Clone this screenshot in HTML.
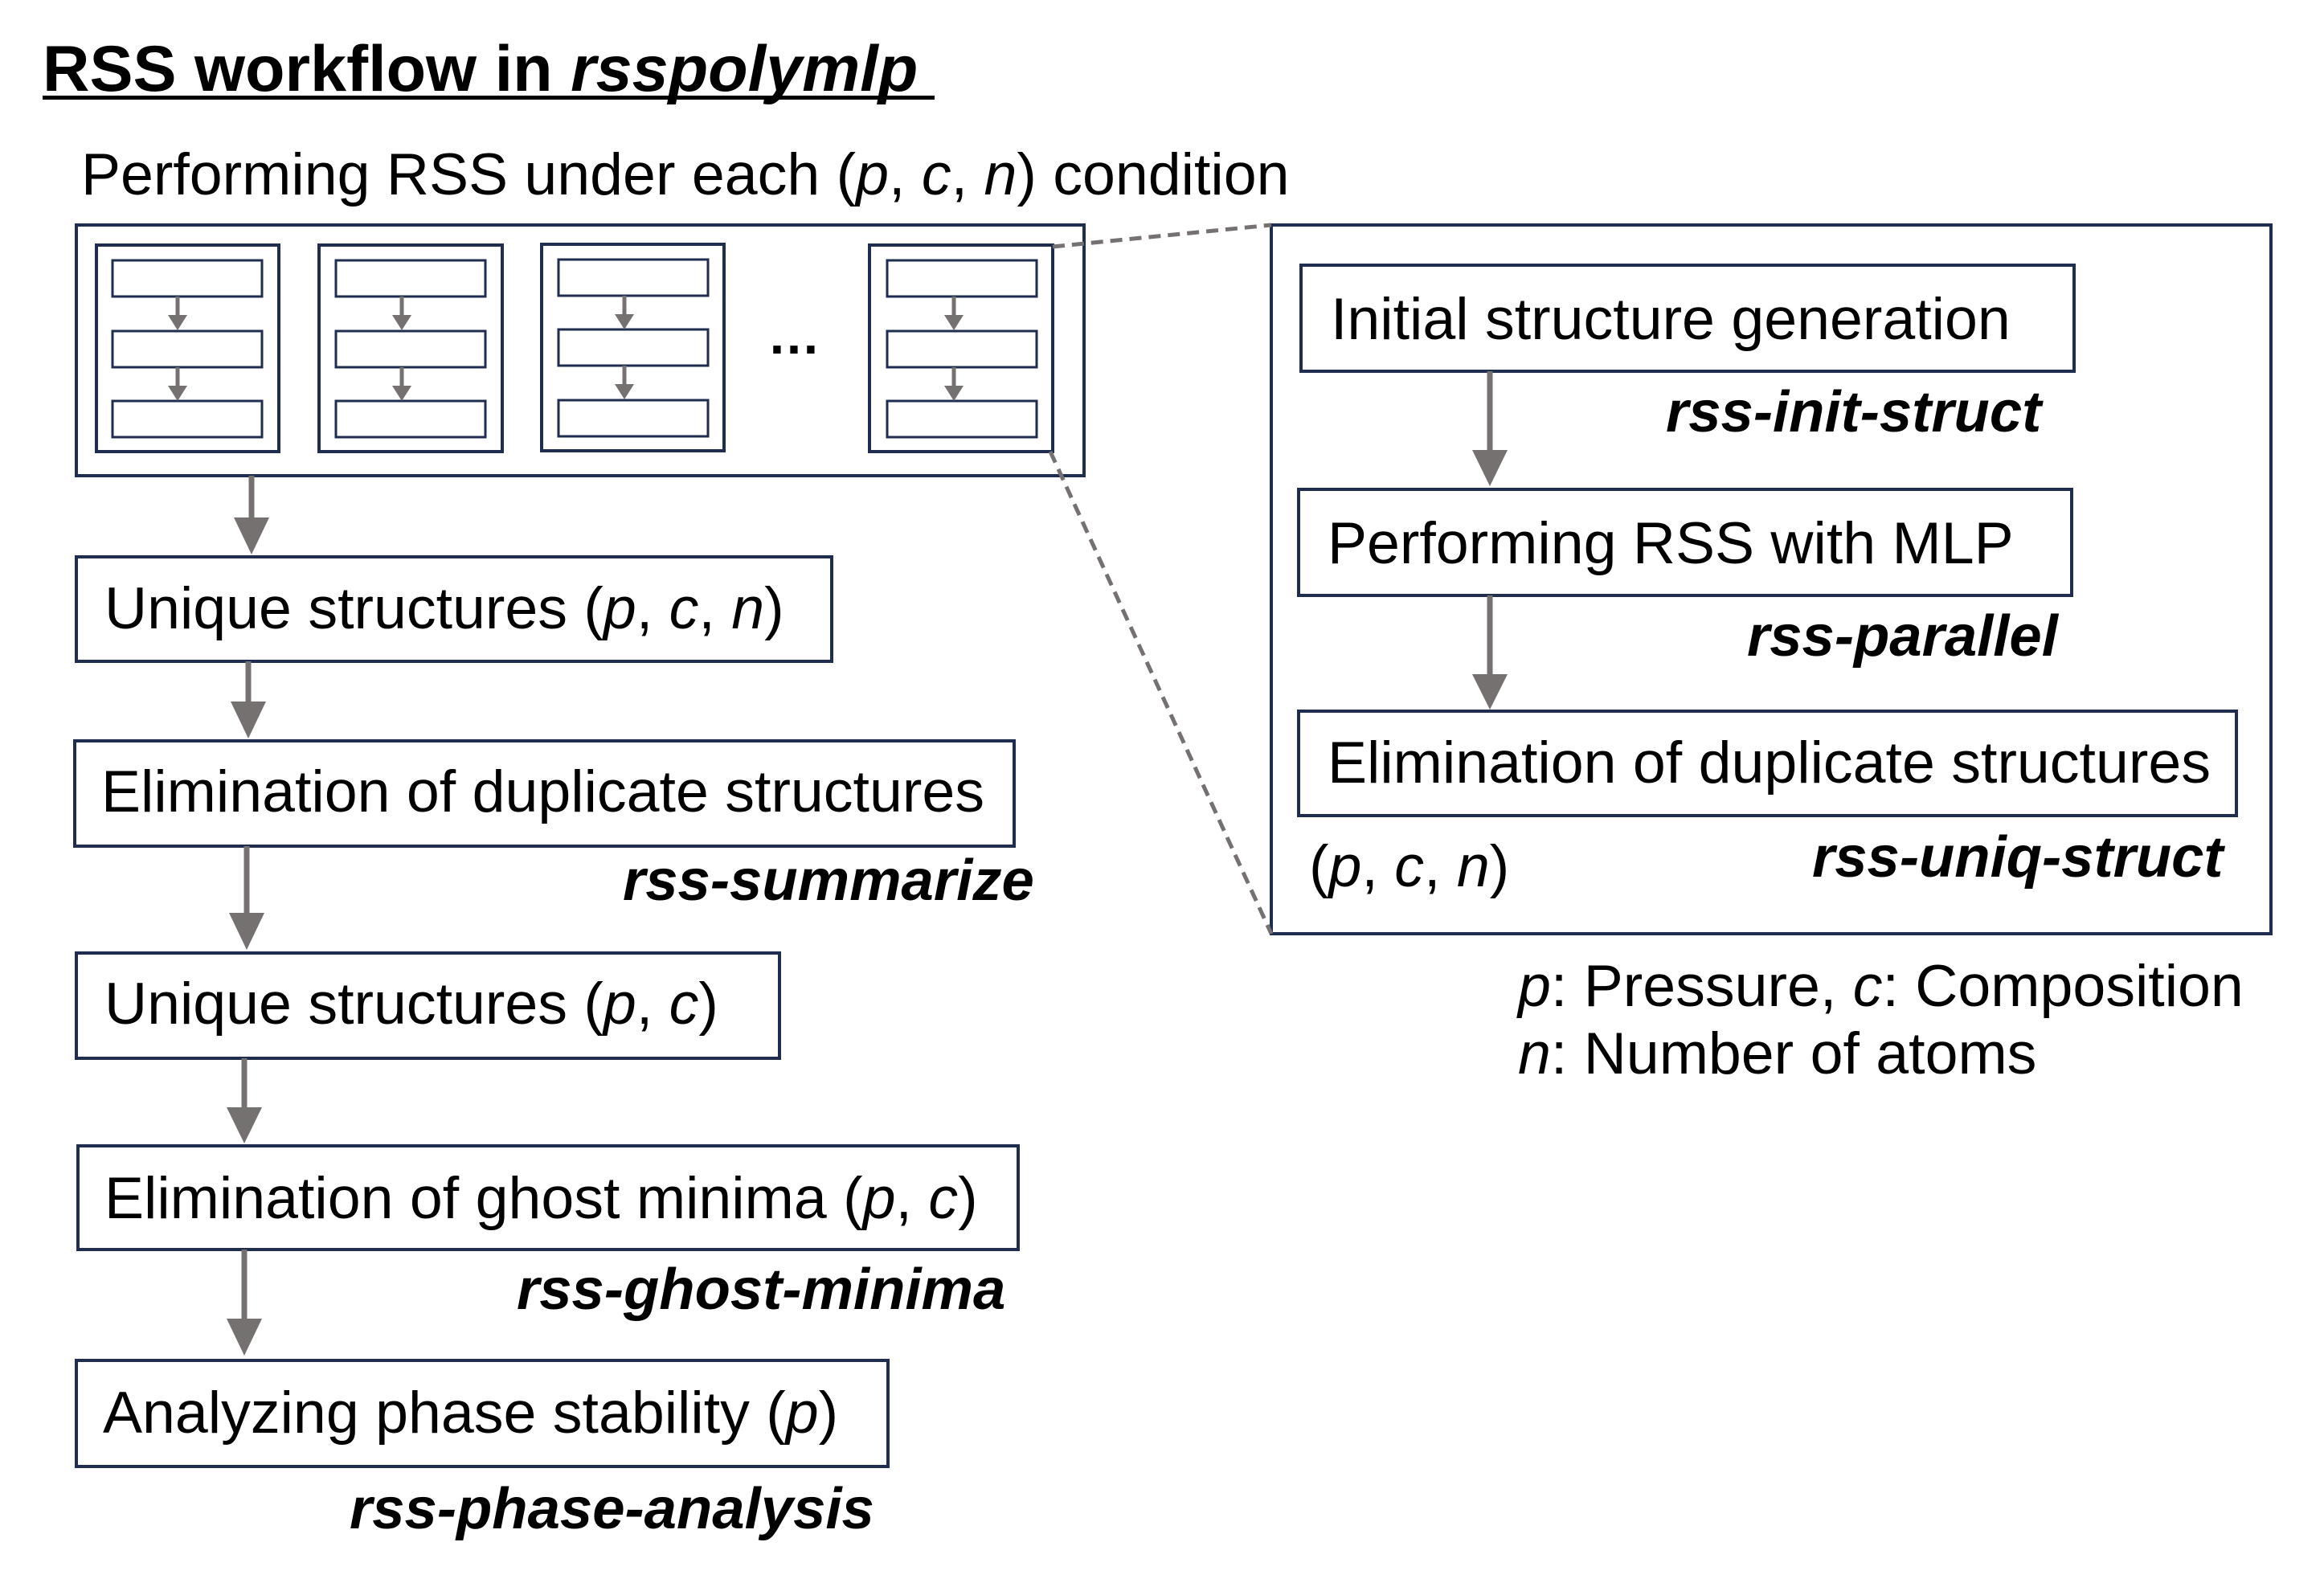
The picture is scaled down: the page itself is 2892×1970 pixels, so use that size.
<!DOCTYPE html>
<html><head><meta charset="utf-8"><style>
html,body{margin:0;padding:0;background:#fff;}
svg{display:block;}
text{font-family:"Liberation Sans",Arial,sans-serif;fill:#000;}
.b{font-size:73.5px;}
.l{font-size:72.5px;font-weight:bold;font-style:italic;}
</style></head><body>
<svg width="2892" height="1970" viewBox="0 0 2892 1970" xmlns="http://www.w3.org/2000/svg">
<text x="53" y="113" style="font-size:81px;font-weight:bold">RSS workflow in <tspan font-style="italic">rsspolymlp</tspan></text>
<rect x="53" y="119" width="1110" height="5" fill="#000"/>
<text x="101" y="242" class="b">Performing RSS under each (<tspan font-style="italic">p</tspan>, <tspan font-style="italic">c</tspan>, <tspan font-style="italic">n</tspan>) condition</text>

<g fill="none" stroke="#1f2d50" stroke-width="4">
<rect x="95" y="280" width="1254" height="312"/>
<rect x="120" y="305" width="227" height="257"/>
<rect x="397" y="305" width="228" height="257"/>
<rect x="674" y="304" width="227" height="257"/>
<rect x="1082" y="305" width="228" height="257"/>
<g stroke-width="3">
<rect x="140" y="324" width="186" height="45"/><rect x="140" y="412" width="186" height="45"/><rect x="140" y="499" width="186" height="45"/>
<rect x="418" y="324" width="186" height="45"/><rect x="418" y="412" width="186" height="45"/><rect x="418" y="499" width="186" height="45"/>
<rect x="695" y="323" width="186" height="45"/><rect x="695" y="410" width="186" height="45"/><rect x="695" y="498" width="186" height="45"/>
<rect x="1104" y="324" width="186" height="45"/><rect x="1104" y="412" width="186" height="45"/><rect x="1104" y="499" width="186" height="45"/>
</g>
<rect x="95" y="693" width="940" height="130"/>
<rect x="93" y="922" width="1169" height="131"/>
<rect x="95" y="1186" width="875" height="131"/>
<rect x="97" y="1426" width="1170" height="129"/>
<rect x="95" y="1693" width="1010" height="132"/>
<rect x="1582" y="280" width="1244" height="882"/>
<rect x="1619" y="330" width="962" height="132"/>
<rect x="1616" y="609" width="962" height="132"/>
<rect x="1616" y="885" width="1167" height="130"/>
</g>

<g stroke="#767171" stroke-width="5" fill="#767171">
<line x1="221" y1="369" x2="221" y2="394"/><polygon stroke="none" points="209,392 233,392 221,411"/>
<line x1="221" y1="457" x2="221" y2="482"/><polygon stroke="none" points="209,480 233,480 221,499"/>
<line x1="500" y1="369" x2="500" y2="394"/><polygon stroke="none" points="488,392 512,392 500,411"/>
<line x1="500" y1="457" x2="500" y2="482"/><polygon stroke="none" points="488,480 512,480 500,499"/>
<line x1="777" y1="368" x2="777" y2="393"/><polygon stroke="none" points="765,391 789,391 777,410"/>
<line x1="777" y1="455" x2="777" y2="480"/><polygon stroke="none" points="765,478 789,478 777,497"/>
<line x1="1187" y1="369" x2="1187" y2="394"/><polygon stroke="none" points="1175,392 1199,392 1187,411"/>
<line x1="1187" y1="457" x2="1187" y2="482"/><polygon stroke="none" points="1175,480 1199,480 1187,499"/>
</g>
<text x="955" y="440" style="font-size:66px;font-weight:bold">…</text>

<g stroke="#767171" stroke-width="7" fill="#767171">
<line x1="313" y1="592" x2="313" y2="646"/><polygon stroke="none" points="291,644 335,644 313,690"/>
<line x1="309" y1="823" x2="309" y2="875"/><polygon stroke="none" points="287,873 331,873 309,919"/>
<line x1="307" y1="1053" x2="307" y2="1138"/><polygon stroke="none" points="285,1136 329,1136 307,1182"/>
<line x1="304" y1="1317" x2="304" y2="1380"/><polygon stroke="none" points="282,1378 326,1378 304,1423"/>
<line x1="304" y1="1555" x2="304" y2="1643"/><polygon stroke="none" points="282,1641 326,1641 304,1687"/>
<line x1="1854" y1="462" x2="1854" y2="562"/><polygon stroke="none" points="1832,560 1876,560 1854,605"/>
<line x1="1854" y1="741" x2="1854" y2="841"/><polygon stroke="none" points="1832,839 1876,839 1854,883"/>
</g>

<g stroke="#767171" stroke-width="5" stroke-dasharray="15,9" fill="none">
<line x1="1310" y1="307" x2="1582" y2="280"/>
<line x1="1307" y1="562" x2="1582" y2="1162"/>
</g>

<text x="130" y="782" class="b">Unique structures (<tspan font-style="italic">p</tspan>, <tspan font-style="italic">c</tspan>, <tspan font-style="italic">n</tspan>)</text>
<text x="126" y="1010" class="b">Elimination of duplicate structures</text>
<text x="775" y="1120" class="l">rss-summarize</text>
<text x="130" y="1274" class="b">Unique structures (<tspan font-style="italic">p</tspan>, <tspan font-style="italic">c</tspan>)</text>
<text x="130" y="1516" class="b">Elimination of ghost minima (<tspan font-style="italic">p</tspan>, <tspan font-style="italic">c</tspan>)</text>
<text x="643" y="1629" class="l">rss-ghost-minima</text>
<text x="128" y="1783" class="b">Analyzing phase stability (<tspan font-style="italic">p</tspan>)</text>
<text x="435" y="1902" class="l">rss-phase-analysis</text>

<text x="1656" y="422" class="b">Initial structure generation</text>
<text x="2073" y="537" class="l">rss-init-struct</text>
<text x="1652" y="701" class="b">Performing RSS with MLP</text>
<text x="2174" y="816" class="l">rss-parallel</text>
<text x="1652" y="974" class="b">Elimination of duplicate structures</text>
<text x="1629" y="1103" class="b">(<tspan font-style="italic">p</tspan>, <tspan font-style="italic">c</tspan>, <tspan font-style="italic">n</tspan>)</text>
<text x="2255" y="1091" class="l">rss-uniq-struct</text>

<text x="1889" y="1252" class="b"><tspan font-style="italic">p</tspan>: Pressure, <tspan font-style="italic">c</tspan>: Composition</text>
<text x="1889" y="1336" class="b"><tspan font-style="italic">n</tspan>: Number of atoms</text>
</svg>
</body></html>
